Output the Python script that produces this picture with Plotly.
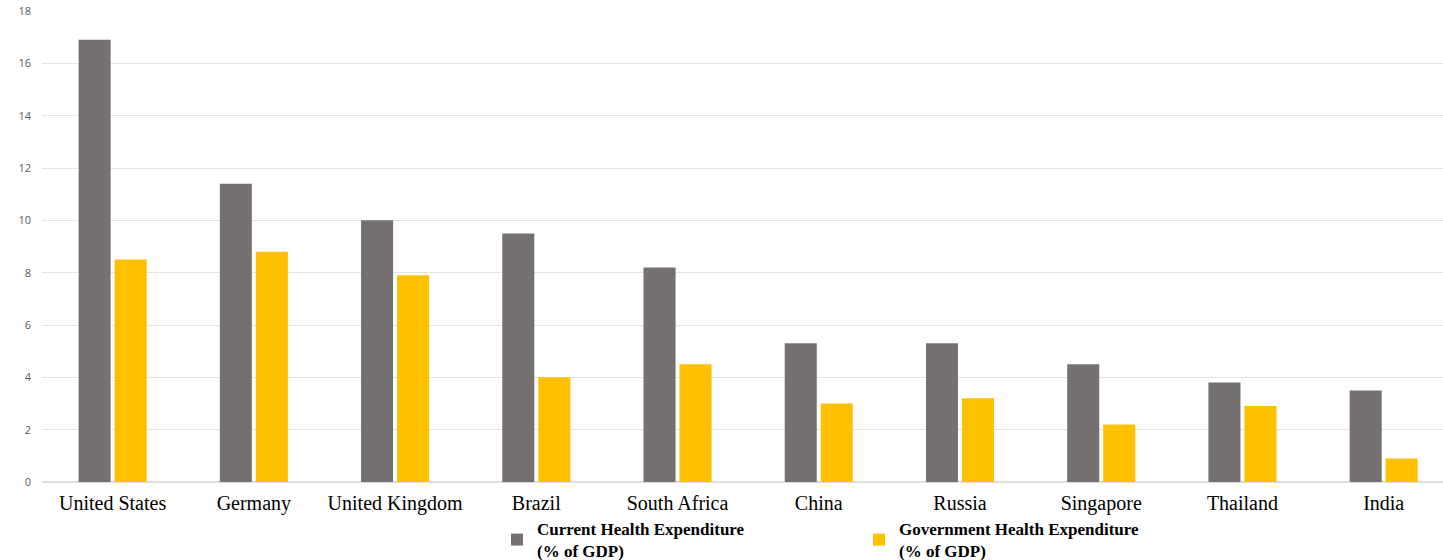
import plotly.graph_objects as go

countries = ["United States", "Germany", "United Kingdom", "Brazil", "South Africa",
             "China", "Russia", "Singapore", "Thailand", "India"]
current_health_exp = [16.9, 11.4, 10.0, 9.5, 8.2, 5.3, 5.3, 4.5, 3.8, 3.5]
government_health_exp = [8.5, 8.8, 7.9, 4.0, 4.5, 3.0, 3.2, 2.2, 2.9, 0.9]
y_ticks = [0, 2, 4, 6, 8, 10, 12, 14, 16, 18]

fig = go.Figure()
fig.add_trace(go.Bar(
    x=countries, y=current_health_exp,
    name="<b>Current Health Expenditure<br>(% of GDP)</b>",
    marker=dict(color="#767171", line=dict(width=0)),
))
fig.add_trace(go.Bar(
    x=countries, y=government_health_exp,
    name="<b>Government Health Expenditure<br>(% of GDP)</b>",
    marker=dict(color="#FFC000", line=dict(width=0)),
))

fig.update_layout(
    width=1443, height=560,
    margin=dict(l=42, r=0, t=11, b=78, autoexpand=False),
    paper_bgcolor="white", plot_bgcolor="white",
    barmode="group", bargap=0.49, bargroupgap=0.11,
    showlegend=True,
    legend=dict(
        orientation="h",
        xref="container", x=497 / 1443, xanchor="left",
        yref="container", y=(560 - 511) / 560, yanchor="top",
        font=dict(family="Liberation Serif", size=17, color="black"),
        entrywidth=317, entrywidthmode="pixels",
        itemwidth=30, tracegroupgap=0,
        bgcolor="rgba(0,0,0,0)",
    ),
    xaxis=dict(
        tickfont=dict(family="Liberation Serif", size=20, color="black"),
        ticks="outside", ticklen=3, tickcolor="rgba(0,0,0,0)",
        showline=False, showgrid=False,
        range=[-0.5, 9.42],
    ),
    yaxis=dict(
        range=[0, 18], tickvals=y_ticks,
        tickfont=dict(family="Open Sans", size=11, color="#595959"),
        gridcolor="#e3e3e3", gridwidth=1,
        zeroline=True, zerolinecolor="#dedede", zerolinewidth=2,
        ticklabelstandoff=10,
    ),
)

fig.write_html("out.html")
